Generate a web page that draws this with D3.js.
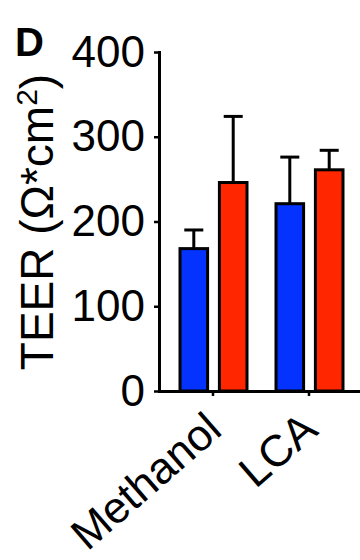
<!DOCTYPE html>
<html>
<head>
<meta charset="utf-8">
<script src="https://cdn.jsdelivr.net/npm/d3@7"></script>
<style>
  html, body { margin: 0; padding: 0; background: #fff; }
  svg { display: block; font-family: "Liberation Sans", Arial, sans-serif; }
</style>
</head>
<body>
<div id="graph"></div>
<script>
const groups = ["Methanol", "LCA"];
const series = ["blue", "red"];
const blueMeans = [168, 221];
const blueErrors = [22, 55];
const redMeans = [246, 261];
const redErrors = [78, 23];
const yTicks = [0, 100, 200, 300, 400];
const colors = { blue: "#0433ff", red: "#ff2600" };

const width = 360, height = 560;

const svg = d3.select("#graph")
    .append("svg")
    .attr("width", width)
    .attr("height", height);

const x0 = d3.scaleBand()
    .domain(groups)
    .range([159, 363])
    .paddingInner(0)
    .paddingOuter(0.0625);

const x1 = d3.scaleBand()
    .domain(series)
    .range([15, 82])
    .paddingInner(0.3);

const y = d3.scaleLinear()
    .domain([0, 400])
    .range([391, 52]);

// one row per bar, built from the arrays above
const rows = [];
groups.forEach((g, i) => {
    rows.push({ group: g, key: "blue", mean: blueMeans[i], err: blueErrors[i] });
    rows.push({ group: g, key: "red", mean: redMeans[i], err: redErrors[i] });
});

const cx = d => x0(d.group) + x1(d.key) + x1.bandwidth() / 2;

// error bars (only the upper half shows)
const capW = 19;
const eb = svg.append("g")
    .attr("stroke", "#000")
    .attr("stroke-width", 3);
eb.selectAll("line.v")
    .data(rows)
    .join("line")
    .attr("class", "v")
    .attr("x1", cx)
    .attr("x2", cx)
    .attr("y1", d => y(d.mean))
    .attr("y2", d => y(d.mean + d.err));
eb.selectAll("line.cap")
    .data(rows)
    .join("line")
    .attr("class", "cap")
    .attr("x1", d => cx(d) - capW / 2)
    .attr("x2", d => cx(d) + capW / 2)
    .attr("y1", d => y(d.mean + d.err))
    .attr("y2", d => y(d.mean + d.err));

// bars
svg.append("g")
    .selectAll("rect")
    .data(rows)
    .join("rect")
    .attr("x", d => x0(d.group) + x1(d.key))
    .attr("width", x1.bandwidth())
    .attr("y", d => y(d.mean))
    .attr("height", d => y(0) - y(d.mean))
    .attr("fill", d => colors[d.key])
    .attr("stroke", "#000")
    .attr("stroke-width", 3);

// y axis
const yAxis = svg.append("g")
    .attr("transform", "translate(159,0)")
    .call(d3.axisLeft(y).tickValues(yTicks).tickSizeInner(5).tickSizeOuter(0).tickPadding(9));
yAxis.select(".domain").attr("stroke-width", 3).attr("stroke-linecap", "square");
yAxis.selectAll(".tick line").attr("stroke-width", 2.5);
yAxis.selectAll(".tick text")
    .style("font-size", "44px")
    .style("font-family", "'Liberation Sans', Arial, sans-serif")
    .attr("fill", "#000");

// x axis
const xAxis = svg.append("g")
    .attr("transform", "translate(0,391)")
    .call(d3.axisBottom(x0).tickSizeInner(5).tickSizeOuter(0));
xAxis.select(".domain").attr("stroke-width", 3);
xAxis.selectAll(".tick line").attr("stroke-width", 2.5);
xAxis.selectAll(".tick text")
    .attr("y", 0)
    .attr("dy", 0)
    .attr("transform", "translate(11,42) rotate(-41)")
    .attr("text-anchor", "end")
    .style("font-size", "44px")
    .style("font-family", "'Liberation Sans', Arial, sans-serif")
    .attr("fill", "#000");

// y title
const title = svg.append("text")
    .attr("transform", "translate(53,222) rotate(-90)")
    .attr("text-anchor", "middle")
    .style("font-size", "46px")
    .attr("fill", "#000");
title.append("tspan").text("TEER (Ω*cm");
title.append("tspan").attr("dy", -16).style("font-size", "30px").text("2");
title.append("tspan").attr("dy", 16).text(")");

// panel letter
svg.append("text")
    .attr("x", 15)
    .attr("y", 56)
    .style("font-size", "40px")
    .style("font-weight", "bold")
    .style("font-family", "'Liberation Sans', Arial, sans-serif")
    .attr("fill", "#000")
    .text("D");
</script>
</body>
</html>
